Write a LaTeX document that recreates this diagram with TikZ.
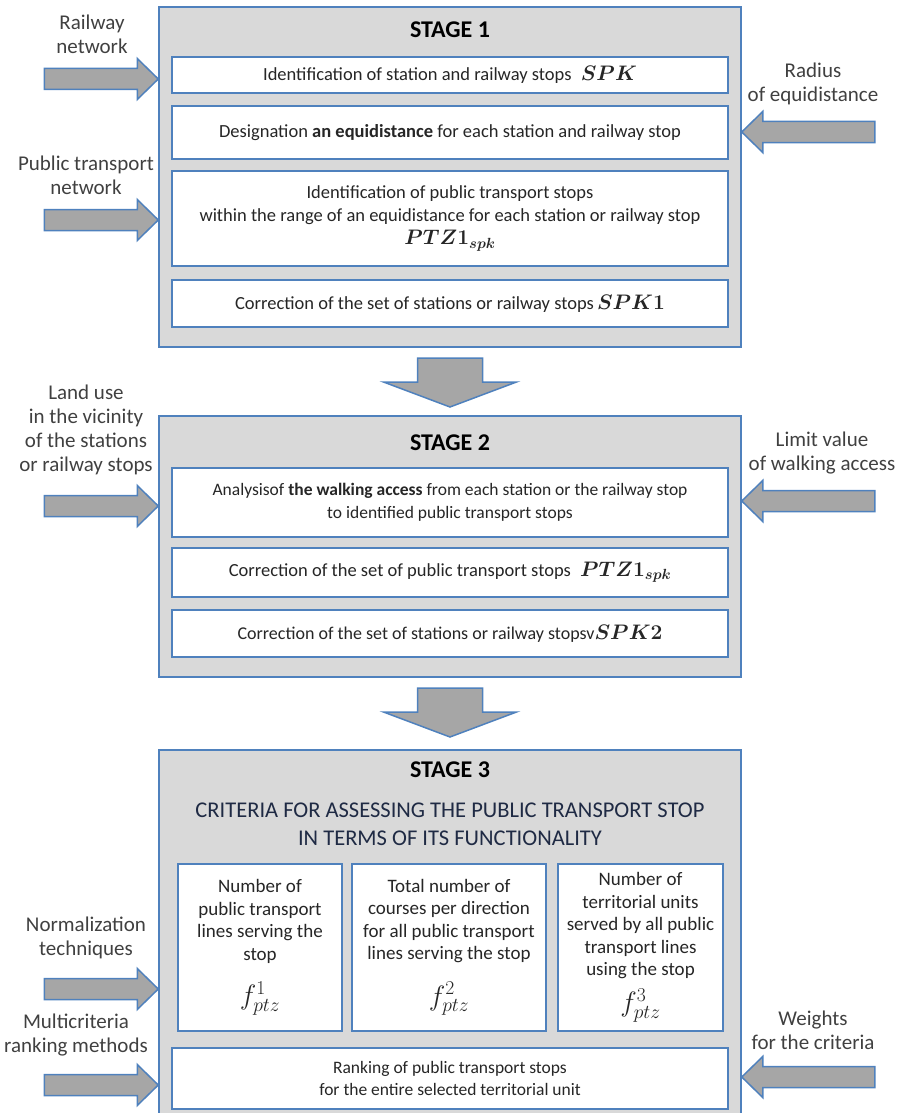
\RequirePackage{fix-cm}
\documentclass[tikz,border=0pt]{standalone}
\usepackage{amsmath}
\usepackage{bm}
\usepackage[no-math]{fontspec}
\setmainfont{Carlito}
\usepackage{tikz}
\usepackage{xcolor}
\definecolor{frameblue}{HTML}{4F81BD}
\definecolor{stagegray}{HTML}{D9D9D9}
\definecolor{arrowgray}{HTML}{A6A6A6}
\definecolor{labelgray}{HTML}{404040}
\definecolor{critnavy}{HTML}{1F2A44}
\tikzset{>=latex}

\begin{document}
\begin{tikzpicture}[x=1pt, y=-1pt]
  % stage = big grey frame, task = white box inside a stage
  \tikzstyle{stage}=[draw=frameblue, line width=1.5pt, fill=stagegray, minimum width=582pt, inner sep=0pt]
  \tikzstyle{task}=[draw=frameblue, line width=1.5pt, fill=white, minimum width=556pt, align=center, inner sep=0pt, text=black!85, font=\fontsize{18.5}{23}\selectfont]
  \tikzstyle{crit}=[task, minimum width=0pt, minimum height=167pt, font=\fontsize{19}{22.5}\selectfont]
  \tikzstyle{inlabel}=[align=center, text=labelgray, font=\fontsize{21}{24}\selectfont]
  \tikzstyle{title}=[font=\fontsize{24}{24}\selectfont\bfseries]
  \tikzstyle{blockarrow}=[draw=frameblue, line width=1.5pt, fill=arrowgray, line join=miter]
  \useasboundingbox (0,0) rectangle (900,1113);

  % STAGE 1
  \node[stage, minimum height=340pt] (stage1) at (450,177) {};
  \node[title] (t1) at (450,30) {STAGE 1};
  \node[task, minimum height=36pt] (s1a) at (450,75) {Identification of station and railway stops\enspace{\fontsize{21}{21}\selectfont$\boldsymbol{SPK}$}};
  \node[task, minimum height=53pt] (s1b) at (450,132.5) {Designation \textbf{an equidistance} for each station and railway stop};
  \node[task, minimum height=95pt] (s1c) at (450,218.5) {Identification of public transport stops\\within the range of an equidistance for each station or railway stop\\{\fontsize{21}{21}\selectfont$\boldsymbol{PTZ1_{spk}}$}};
  \node[task, minimum height=47pt] (s1d) at (450,303.5) {Correction of the set of stations or railway stops\,{\fontsize{21}{21}\selectfont$\boldsymbol{SPK1}$}};

  % STAGE 2
  \node[stage, minimum height=261pt] (stage2) at (450,546.5) {};
  \node[title] (t2) at (450,443) {STAGE 2};
  \node[task, minimum height=69pt, font=\fontsize{17.5}{23}\selectfont] (s2a) at (450,502.5) {Analysisof \textbf{the walking access} from each station or the railway stop\\to identified public transport stops};
  \node[task, minimum height=49pt] (s2b) at (450,572.5) {Correction of the set of public transport stops\enspace{\fontsize{21}{21}\selectfont$\boldsymbol{PTZ1_{spk}}$}};
  \node[task, minimum height=47pt, font=\fontsize{18}{23}\selectfont] (s2c) at (450,633.5) {Correction of the set of stations or railway stopsv{\fontsize{21}{21}\selectfont$\boldsymbol{SPK2}$}};

  % STAGE 3
  \node[stage, minimum height=380pt, anchor=north] (stage3) at (450,749) {};
  \node[title] (t3) at (450,770) {STAGE 3};
  \node[align=center, text=critnavy, font=\fontsize{22.5}{28}\selectfont] (critq) at (450,824) {CRITERIA FOR ASSESSING THE PUBLIC TRANSPORT STOP\\IN TERMS OF ITS FUNCTIONALITY};
  \node[crit, minimum width=164pt] (c1) at (260,947.5) {Number of\\public transport\\lines serving the\\stop\\[18pt]{\fontsize{28}{28}\selectfont$f_{ptz}^{1}$}};
  \node[crit, minimum width=194pt] (c2) at (449,947.5) {Total number of\\courses per direction\\for all public transport\\lines serving the stop\\[18pt]{\fontsize{28}{28}\selectfont$f_{ptz}^{2}$}};
  \node[crit, minimum width=165pt] (c3) at (640.5,947.5) {Number of\\territorial units\\served by all public\\transport lines\\using the stop\\[9pt]{\fontsize{28}{28}\selectfont$f_{ptz}^{3}$}};
  \node[task, minimum height=61pt, font=\fontsize{17.5}{22}\selectfont] (rank) at (450,1078.5) {Ranking of public transport stops\\for the entire selected territorial unit};

  % inputs
  \node[inlabel] (rail) at (92,34) {Railway\\network};
  \node[inlabel] (ptnet) at (86,175) {Public transport\\network};
  \node[inlabel] (radius) at (813,84) {Radius\\of equidistance};
  \node[inlabel] (landuse) at (86,430) {Land use\\in the vicinity\\of the stations\\or railway stops};
  \node[inlabel] (limit) at (822,453) {Limit value\\of walking access};
  \node[inlabel] (norm) at (86,938) {Normalization\\techniques};
  \node[inlabel] (multi) at (76,1035) {Multicriteria\\ranking methods};
  \node[inlabel] (weights) at (813,1030) {Weights\\for the criteria};

  % arrow tips on the stage frames
  \coordinate (railin) at (stage1.west |- 0,79);
  \coordinate (ptin) at (stage1.west |- 0,220);
  \coordinate (landin) at (stage2.west |- 0,506);
  \coordinate (normin) at (stage3.west |- 0,989);
  \coordinate (multiin) at (stage3.west |- 0,1085);
  \coordinate (radin) at (stage1.east |- 0,132);
  \coordinate (limin) at (stage2.east |- 0,501);
  \coordinate (wgtin) at (stage3.east |- 0,1077);
  \coordinate (step12) at (450,407);
  \coordinate (step23) at (450,737);

  \foreach \tip in {railin, ptin, landin, normin, multiin}
    \draw[blockarrow] (\tip) -- ++(-21,-20.5) -- ++(0,10) -- ++(-93,0) -- ++(0,21) -- ++(93,0) -- ++(0,10) -- cycle;
  \foreach \tip in {radin, limin, wgtin}
    \draw[blockarrow] (\tip) -- ++(21,-20.5) -- ++(0,10) -- ++(112,0) -- ++(0,21) -- ++(-112,0) -- ++(0,10) -- cycle;
  \foreach \tip in {step12, step23}
    \draw[blockarrow] (\tip) -- ++(-66.5,-25) -- ++(34,0) -- ++(0,-24) -- ++(65,0) -- ++(0,24) -- ++(34,0) -- cycle;
\end{tikzpicture}
\end{document}
